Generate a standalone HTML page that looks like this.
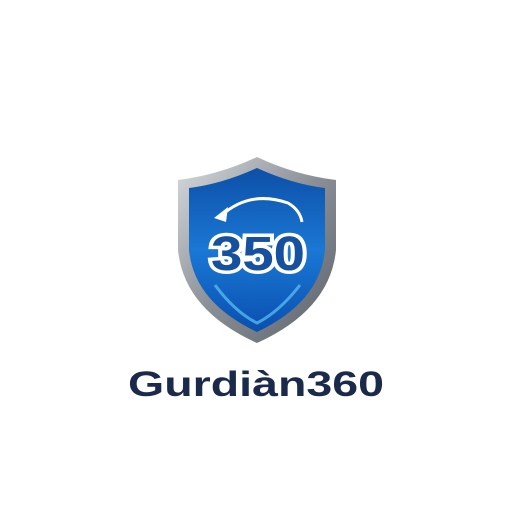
<!DOCTYPE html>
<html><head><style>
html,body{margin:0;padding:0;width:512px;height:512px;background:#fff;overflow:hidden}
</style></head><body>
<svg width="512" height="512" viewBox="0 0 512 512">
<defs>
<linearGradient id="silver" x1="0" y1="0" x2="1" y2="1">
<stop offset="0" stop-color="#d8dadd"/><stop offset="0.5" stop-color="#8a8f96"/><stop offset="1" stop-color="#5d636b"/>
</linearGradient>
<linearGradient id="blue" x1="0" y1="0" x2="0" y2="1">
<stop offset="0" stop-color="#0d4fa8"/><stop offset="0.5" stop-color="#1a78d4"/><stop offset="1" stop-color="#0a4fb0"/>
</linearGradient>
</defs>
<path d="M257 157 Q295 175 336 180 L336 250 Q330 310 257 343 Q184 310 178 250 L178 180 Q219 175 257 157 Z" fill="url(#silver)"/>
<path d="M257 168 Q292 184 325 188 L325 250 Q320 302 257 332 Q194 302 189 250 L189 188 Q222 184 257 168 Z" fill="url(#blue)"/>
<path d="M215 285 Q235 312 257 323 Q279 312 300 285" fill="none" stroke="#5fc4f5" stroke-width="3" opacity="0.7"/>
<path d="M222 215 Q250 190 288 203 Q300 210 302 222" fill="none" stroke="#fff" stroke-width="3"/>
<path d="M214 218 L228 207 L226 222 Z" fill="#fff"/>
<text x="258" y="270" text-anchor="middle" font-family="Liberation Sans, sans-serif" font-weight="bold" font-size="48" fill="#0b3f86" stroke="#fff" stroke-width="7" paint-order="stroke" textLength="94" lengthAdjust="spacingAndGlyphs">350</text>
<text x="258" y="270" text-anchor="middle" font-family="Liberation Sans, sans-serif" font-weight="bold" font-size="48" fill="#1c5eb0" textLength="94" lengthAdjust="spacingAndGlyphs" opacity="0.6">350</text>
<text x="256" y="396" text-anchor="middle" font-family="Liberation Sans, sans-serif" font-weight="bold" font-size="35" fill="#1b2a4a" textLength="256" lengthAdjust="spacingAndGlyphs">Gurdiàn360</text>
</svg>
</body></html>
